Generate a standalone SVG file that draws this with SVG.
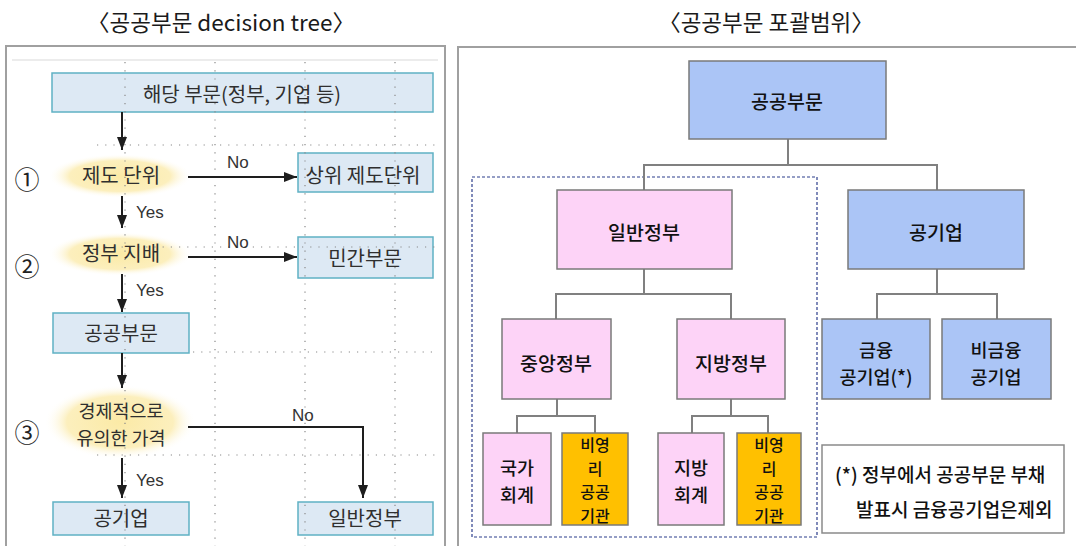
<svg xmlns="http://www.w3.org/2000/svg" width="1076" height="546" viewBox="0 0 1076 546">
<style>
.t{font-family:"Noto Sans CJK KR","Noto Sans",sans-serif;}
.title{font-size:22.5px;fill:#1a1a1a;text-anchor:middle;dominant-baseline:central;}
.lt{font-size:20px;fill:#2f2f2f;text-anchor:middle;dominant-baseline:central;}
.lt2{font-size:18.5px;fill:#2f2f2f;text-anchor:middle;dominant-baseline:central;}
.yn{font-family:"Liberation Sans",Arial,sans-serif;font-size:17px;fill:#333;dominant-baseline:central;}
.num{font-size:25px;fill:#222;text-anchor:middle;dominant-baseline:central;}
.rt{font-size:19.5px;fill:#111;text-anchor:middle;dominant-baseline:central;font-weight:500;}
.rt2{font-size:18.5px;fill:#111;text-anchor:middle;dominant-baseline:central;font-weight:500;}
.st{font-size:16px;fill:#111;text-anchor:middle;dominant-baseline:central;font-weight:500;}
.lbox{fill:#dde9f4;stroke:#5fb1c4;stroke-width:1.5;}
.grid{stroke:#8a8a8a;stroke-width:1.2;stroke-dasharray:1.2 7;fill:none;}
.arr{stroke:#1e1e1e;stroke-width:2;fill:none;marker-end:url(#ah);}
.blue{fill:#abc5f6;stroke:#7a7a7a;stroke-width:1.5;}
.pink{fill:#fdd3f7;stroke:#7a7a7a;stroke-width:1.5;}
.orng{fill:#ffc000;stroke:#7a7a7a;stroke-width:1.5;}
.con{stroke:#808080;stroke-width:2;fill:none;}
.note{font-size:19px;fill:#111;font-weight:500;dominant-baseline:central;}
</style>
<defs>
<marker id="ah" viewBox="0 0 13 10" markerWidth="13" markerHeight="10" refX="13" refY="5" orient="auto" markerUnits="userSpaceOnUse">
<path d="M0,0 L13,5 L0,10 z" fill="#1e1e1e"/>
</marker>
<radialGradient id="glow">
<stop offset="0" stop-color="#fbeaa6"/>
<stop offset="0.7" stop-color="#fcefbd"/>
<stop offset="1" stop-color="#ffffff" stop-opacity="0"/>
</radialGradient>
</defs>
<rect width="1076" height="546" fill="#ffffff"/>

<!-- titles -->
<text class="t title" x="221" y="21">〈공공부문 decision tree〉</text>
<text class="t title" x="766" y="21">〈공공부문 포괄범위〉</text>

<!-- LEFT PANEL -->
<rect x="6" y="46" width="439" height="510" fill="#ffffff" stroke="#a0a0a0" stroke-width="2"/>
<line x1="12" y1="60" x2="438" y2="60" stroke="#e6e6e6" stroke-width="1.5"/>

<g id="l-haedang"><rect class="lbox" x="52" y="73" width="381" height="39"/></g>
<g id="l-jedo"><ellipse cx="120" cy="176" rx="72" ry="22" fill="url(#glow)"/></g>
<g id="l-sangwi"><rect class="lbox" x="298" y="153" width="135" height="39"/></g>
<g id="l-jibae"><ellipse cx="120" cy="254" rx="72" ry="22" fill="url(#glow)"/></g>
<g id="l-mingan"><rect class="lbox" x="298" y="237" width="135" height="41"/></g>
<g id="l-public"><rect class="lbox" x="53" y="313" width="136" height="40"/></g>
<g id="l-price"><ellipse cx="120" cy="422" rx="76" ry="37" fill="url(#glow)"/></g>
<g id="l-gonggiup"><rect class="lbox" x="53" y="502" width="136" height="33"/></g>
<g id="l-ilban"><rect class="lbox" x="298" y="502" width="135" height="33"/></g>

<g id="grid">
<line class="grid" x1="125" y1="62" x2="125" y2="546"/>
<line class="grid" x1="215" y1="62" x2="215" y2="546"/>
<line class="grid" x1="305" y1="62" x2="305" y2="546"/>
<line class="grid" x1="395" y1="62" x2="395" y2="546"/>
<line class="grid" x1="97" y1="145" x2="438" y2="145"/>
<line class="grid" x1="97" y1="247" x2="438" y2="247"/>
<line class="grid" x1="193" y1="352" x2="438" y2="352"/>
<line class="grid" x1="97" y1="455" x2="438" y2="455"/>
</g>

<g id="l-connectors">
<line class="arr" x1="122" y1="112" x2="122" y2="150"/>
<line class="arr" x1="188" y1="177" x2="297" y2="177"/>
<line class="arr" x1="122" y1="196" x2="122" y2="228"/>
<line class="arr" x1="188" y1="257" x2="297" y2="257"/>
<line class="arr" x1="122" y1="274" x2="122" y2="312"/>
<line class="arr" x1="122" y1="353" x2="122" y2="388"/>
<polyline class="arr" points="188,427 363,427 363,498"/>
<line class="arr" x1="122" y1="458" x2="122" y2="498"/>
<text class="yn" x="227" y="162">No</text>
<text class="yn" x="227" y="242">No</text>
<text class="yn" x="292" y="415">No</text>
<text class="yn" x="136" y="212">Yes</text>
<text class="yn" x="136" y="290">Yes</text>
<text class="yn" x="136" y="480">Yes</text>
</g>

<g id="l-texts">
<text class="t lt" x="242" y="93">해당 부문(정부, 기업 등)</text>
<text class="t lt" x="121" y="174">제도 단위</text>
<text class="t lt" x="363" y="174">상위 제도단위</text>
<text class="t lt" x="121" y="252">정부 지배</text>
<text class="t lt" x="365" y="257">민간부문</text>
<text class="t lt" x="121" y="332">공공부문</text>
<text class="t lt2" x="121" y="410">경제적으로</text>
<text class="t lt2" x="121" y="437">유의한 가격</text>
<text class="t lt" x="121" y="517">공기업</text>
<text class="t lt" x="365" y="517">일반정부</text>
<text class="t num" x="27" y="178">①</text>
<text class="t num" x="27" y="265">②</text>
<text class="t num" x="27" y="431">③</text>
</g>

<!-- RIGHT PANEL -->
<rect x="458" y="47" width="630" height="510" fill="#ffffff" stroke="#a0a0a0" stroke-width="2"/>
<rect x="472" y="177" width="345" height="360" fill="none" stroke="#2d3f8c" stroke-width="1.2" stroke-dasharray="3 2"/>

<g id="r-connectors">
<polyline class="con" points="788,139 788,165"/>
<polyline class="con" points="644,190 644,165 937,165 937,190"/>
<polyline class="con" points="644,269 644,294"/>
<polyline class="con" points="556,319 556,294 731,294 731,319"/>
<polyline class="con" points="937,269 937,294"/>
<polyline class="con" points="877,319 877,294 997,294 997,319"/>
<polyline class="con" points="557,399 557,416"/>
<polyline class="con" points="517,433 517,416 595,416 595,433"/>
<polyline class="con" points="731,399 731,416"/>
<polyline class="con" points="692,433 692,416 768,416 768,433"/>
</g>

<g id="r-public"><rect class="blue" x="689" y="61" width="197" height="78"/><text class="t rt" x="787" y="100">공공부문</text></g>
<g id="r-ilban"><rect class="pink" x="557" y="190" width="175" height="79"/><text class="t rt" x="644" y="231">일반정부</text></g>
<g id="r-gonggiup"><rect class="blue" x="848" y="190" width="176" height="79"/><text class="t rt" x="936" y="231">공기업</text></g>
<g id="r-central"><rect class="pink" x="502" y="319" width="109" height="80"/><text class="t rt" x="556" y="362">중앙정부</text></g>
<g id="r-local"><rect class="pink" x="677" y="319" width="108" height="80"/><text class="t rt" x="731" y="362">지방정부</text></g>
<g id="r-fin"><rect class="blue" x="822" y="319" width="108" height="80"/><text class="t rt2" x="876" y="349">금융</text><text class="t rt2" x="876" y="376">공기업(*)</text></g>
<g id="r-nonfin"><rect class="blue" x="942" y="319" width="109" height="80"/><text class="t rt2" x="996" y="349">비금융</text><text class="t rt2" x="996" y="376">공기업</text></g>
<g id="r-nat"><rect class="pink" x="483" y="433" width="68" height="92"/><text class="t rt2" x="517" y="467">국가</text><text class="t rt2" x="517" y="494">회계</text></g>
<g id="r-np1"><rect class="orng" x="562" y="433" width="66" height="92"/><text class="t st" x="595" y="444">비영</text><text class="t st" x="595" y="467.5">리</text><text class="t st" x="595" y="491">공공</text><text class="t st" x="595" y="514.5">기관</text></g>
<g id="r-locacc"><rect class="pink" x="658" y="433" width="66" height="92"/><text class="t rt2" x="691" y="467">지방</text><text class="t rt2" x="691" y="494">회계</text></g>
<g id="r-np2"><rect class="orng" x="737" y="433" width="64" height="92"/><text class="t st" x="769" y="444">비영</text><text class="t st" x="769" y="467.5">리</text><text class="t st" x="769" y="491">공공</text><text class="t st" x="769" y="514.5">기관</text></g>
<g id="r-note"><rect x="822" y="445" width="242" height="88" fill="#ffffff" stroke="#8a8a8a" stroke-width="1.5"/>
<text class="t note" x="835" y="473">(*) 정부에서 공공부문 부채</text>
<text class="t note" x="856" y="508">발표시 금융공기업은제외</text></g>
</svg>
